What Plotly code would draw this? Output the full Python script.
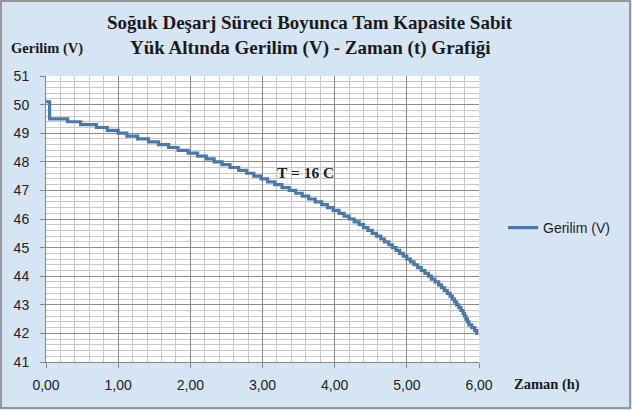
import plotly.graph_objects as go

# Step readings: time (h) at which voltage reaches each value (V)
zaman = [0.00, 0.05, 0.30, 0.48, 0.70, 0.85, 1.00, 1.12, 1.27, 1.42, 1.56, 1.70, 1.83, 1.97,
         2.10, 2.22, 2.33, 2.44, 2.55, 2.67, 2.78, 2.88, 2.98, 3.07, 3.17, 3.27, 3.37, 3.46,
         3.55, 3.64, 3.73, 3.82, 3.90, 3.98, 4.06, 4.13, 4.20, 4.27, 4.34, 4.40, 4.46, 4.52,
         4.58, 4.64, 4.69, 4.75, 4.80, 4.85, 4.90, 4.95, 5.00, 5.05, 5.10, 5.15, 5.20, 5.25,
         5.30, 5.34, 5.39, 5.44, 5.48, 5.52, 5.56, 5.60, 5.63, 5.66, 5.69, 5.72, 5.75, 5.78,
         5.80, 5.82, 5.84, 5.86, 5.90, 5.94, 5.97, 5.99]
gerilim = [50.1, 49.5, 49.4, 49.3, 49.2, 49.1, 49.0, 48.9, 48.8, 48.7, 48.6, 48.5, 48.4, 48.3,
           48.2, 48.1, 48.0, 47.9, 47.8, 47.7, 47.6, 47.5, 47.4, 47.3, 47.2, 47.1, 47.0, 46.9,
           46.8, 46.7, 46.6, 46.5, 46.4, 46.3, 46.2, 46.1, 46.0, 45.9, 45.8, 45.7, 45.6, 45.5,
           45.4, 45.3, 45.2, 45.1, 45.0, 44.9, 44.8, 44.7, 44.6, 44.5, 44.4, 44.3, 44.2, 44.1,
           44.0, 43.9, 43.8, 43.7, 43.6, 43.5, 43.4, 43.3, 43.2, 43.1, 43.0, 42.9, 42.8, 42.7,
           42.6, 42.5, 42.4, 42.3, 42.2, 42.1, 42.0, 42.0]

x_ticks = [0, 1, 2, 3, 4, 5, 6]
y_ticks = [41, 42, 43, 44, 45, 46, 47, 48, 49, 50, 51]

serif = "Liberation Serif, Times New Roman, serif"
sans = "Liberation Sans, Arial, sans-serif"

fig = go.Figure()
fig.add_trace(go.Scatter(
    x=zaman, y=gerilim, mode="lines", name="Gerilim (V)",
    line=dict(color="#4A78AA", width=3.2, shape="hv"),
))

W, H = 632, 410
ml, mr, mt, mb = 46, 153, 76, 48
pw, ph = W - ml - mr, H - mt - mb

def px_to_paper_x(px):
    return (px - ml) / pw

def px_to_paper_y(py):
    return (H - mb - py) / ph

fig.update_layout(
    width=W, height=H,
    margin=dict(l=ml, r=mr, t=mt, b=mb),
    paper_bgcolor="#d6e5f4",
    plot_bgcolor="white",
    separators=",.",
    showlegend=True,
    legend=dict(
        x=px_to_paper_x(503), y=px_to_paper_y(228), xanchor="left", yanchor="middle",
        font=dict(family=sans, size=14, color="#222"),
        bgcolor="rgba(0,0,0,0)", itemwidth=30,
    ),
    xaxis=dict(
        range=[0, 6], tickvals=x_ticks, tickformat=".2f",
        showgrid=True, gridcolor="#8c8c8c", gridwidth=1,
        minor=dict(dtick=0.2, showgrid=True, gridcolor="#c8c8c8", gridwidth=1),
        showline=True, linecolor="#868686", linewidth=1,
        ticks="outside", ticklen=5, tickcolor="#868686",
        ticklabelstandoff=5,
        tickfont=dict(family=sans, size=14, color="#222"),
        zeroline=False, fixedrange=True,
    ),
    yaxis=dict(
        range=[41, 51], tickvals=y_ticks,
        showgrid=True, gridcolor="#8c8c8c", gridwidth=1,
        minor=dict(dtick=0.2, showgrid=True, gridcolor="#c8c8c8", gridwidth=1),
        showline=True, linecolor="#868686", linewidth=1,
        ticks="outside", ticklen=5, tickcolor="#868686",
        ticklabelstandoff=8,
        tickfont=dict(family=sans, size=14, color="#222"),
        zeroline=False, fixedrange=True,
    ),
)

annotations = [
    dict(text="<b>Soğuk Deşarj Süreci Boyunca Tam Kapasite Sabit</b>",
         x=px_to_paper_x(310), y=px_to_paper_y(22), xref="paper", yref="paper",
         showarrow=False, font=dict(family=serif, size=19, color="#1a1a1a"),
         xanchor="center", yanchor="middle"),
    dict(text="<b>Yük Altında Gerilim (V) - Zaman (t) Grafiği</b>",
         x=px_to_paper_x(310), y=px_to_paper_y(48), xref="paper", yref="paper",
         showarrow=False, font=dict(family=serif, size=19, color="#1a1a1a"),
         xanchor="center", yanchor="middle"),
    dict(text="<b>Gerilim (V)</b>",
         x=px_to_paper_x(9), y=px_to_paper_y(48), xref="paper", yref="paper",
         showarrow=False, font=dict(family=serif, size=14.5, color="#1a1a1a"),
         xanchor="left", yanchor="middle"),
    dict(text="<b>Zaman (h)</b>",
         x=px_to_paper_x(512), y=px_to_paper_y(384), xref="paper", yref="paper",
         showarrow=False, font=dict(family=serif, size=14.5, color="#1a1a1a"),
         xanchor="left", yanchor="middle"),
    dict(text="<b>T = 16 C</b>",
         x=px_to_paper_x(305), y=px_to_paper_y(172), xref="paper", yref="paper",
         showarrow=False, font=dict(family=serif, size=15.5, color="#1a1a1a"),
         xanchor="center", yanchor="middle"),
]
fig.update_layout(annotations=annotations)

fig.add_shape(type="rect", xref="paper", yref="paper",
              x0=px_to_paper_x(1), x1=px_to_paper_x(630),
              y0=px_to_paper_y(408), y1=px_to_paper_y(1),
              line=dict(color="#7f7f7f", width=1.5), fillcolor="rgba(0,0,0,0)", layer="below")

fig.write_html("out.html")
